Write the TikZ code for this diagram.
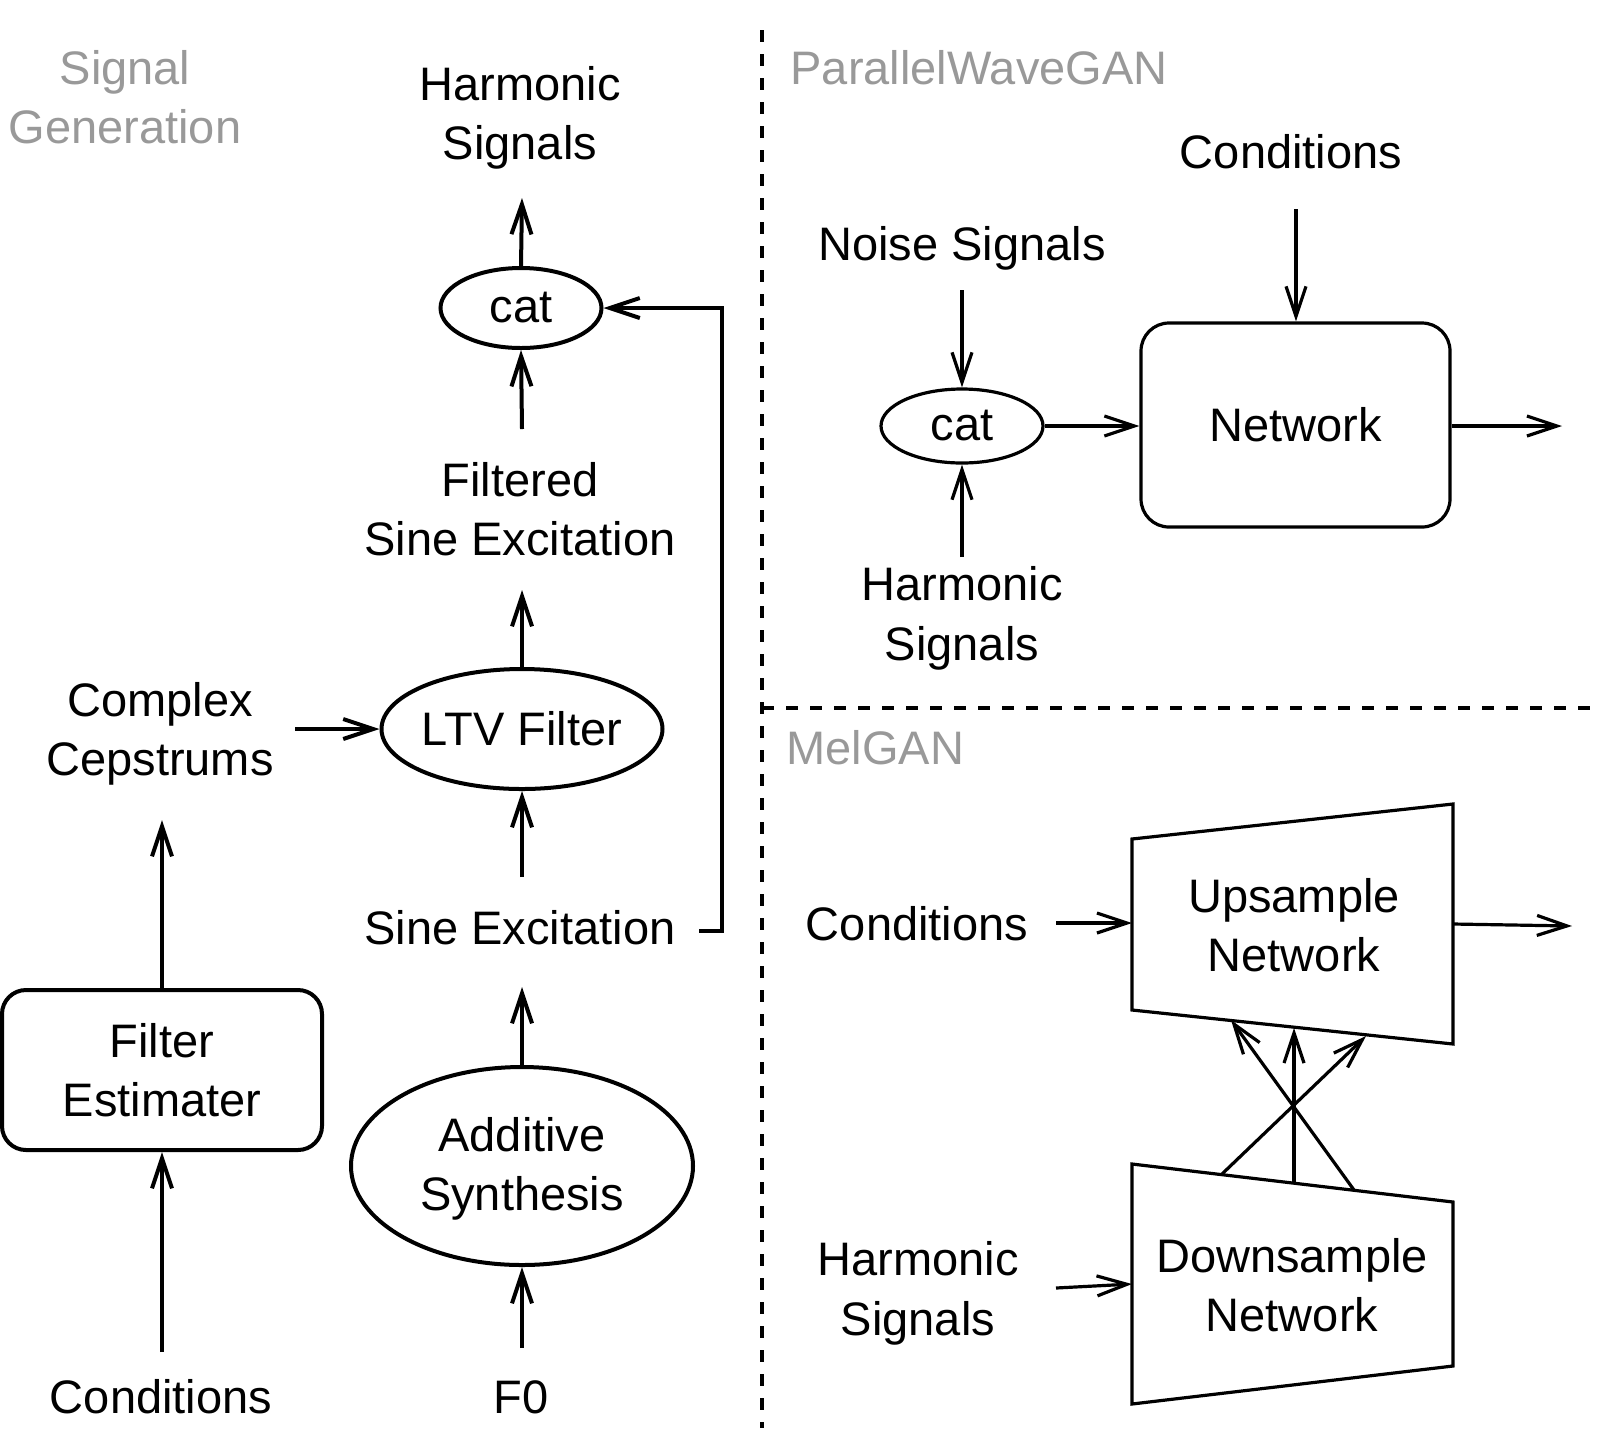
\documentclass[tikz,border=0pt]{standalone}
\usepackage{fontspec}
\setmainfont{Liberation Sans}
\usetikzlibrary{arrows.meta,shapes.geometric}
\definecolor{lblgray}{RGB}{153,153,153}
\begin{document}
\begin{tikzpicture}[x=1pt,y=-1pt,line width=3.2pt,
  >={Straight Barb[length=30pt,width=20pt]},
  txt/.style={font=\fontsize{47}{59.5}\selectfont,align=center,inner sep=0pt},
  gtxt/.style={txt,text=lblgray},
  ellip/.style={draw,ellipse,inner sep=0pt},
  rbox/.style={draw,rectangle,inner sep=0pt},
  thick4/.style={line width=4pt},
  divider/.style={line width=3.5pt,dash pattern=on 12pt off 12pt}]
\useasboundingbox (0,0) rectangle (1608,1452);

% dividers
\draw[divider] (762,30) -- (762,1428);
\draw[divider] (762,708) -- (1590,708);

% ---------------- Signal Generation ----------------
\begin{scope}[thick4]
\node[gtxt] (sg) at (125,97) {Signal\\Generation};
\node[txt] (hs1) at (520,118) {Harmonic\\Signals};
\node[ellip,minimum width=161pt,minimum height=80pt] (cat1) at (521,308) {};
\node[txt] at (cat1) {cat};
\node[txt] (fse) at (520,509) {Filtered\\Sine Excitation};
\node[ellip,minimum width=281pt,minimum height=120pt] (ltv) at (522,729) {};
\node[txt] at (ltv) {LTV Filter};
\node[txt] (cc) at (160,734) {Complex\\Cepstrums};
\node[txt] (se) at (520,928) {Sine Excitation};
\node[ellip,minimum width=342pt,minimum height=198pt] (add) at (522,1166) {};
\node[txt] at ([yshift=-3pt]add.center) {Additive\\Synthesis};
\node[txt] (f0) at (521,1397) {F0};
\node[rbox,rounded corners=24pt,minimum width=320pt,minimum height=160pt] (fe) at (162,1070) {};
\node[txt] at (fe) {Filter\\Estimater};
\node[txt] (cond1) at (161,1397) {Conditions};

\coordinate (hs1in) at (522,198);
\coordinate (fseout) at (522,429);
\coordinate (fsein) at (522,590);
\coordinate (ccout) at (295,729);
\coordinate (seout) at (522,877);
\coordinate (sein) at (522,987);
\coordinate (f0out) at (522,1348);
\coordinate (ccin) at (162,820);
\coordinate (cond1out) at (162,1352);
\coordinate (fbs) at (699,931);
\coordinate (fbc) at (722,931);

\draw[->] (cat1.north) -- (hs1in);
\draw[->] (fseout) -- (cat1.south);
\draw[->] (ltv.north) -- (fsein);
\draw[->] (ccout) -- (ltv.west);
\draw[->] (seout) -- (ltv.south);
\draw[->] (add.north) -- (sein);
\draw[->] (f0out) -- (add.south);
\draw[->] (fe.north) -- (ccin);
\draw[->] (cond1out) -- (fe.south);
\draw[->] (fbs) -- (fbc) |- (cat1.east);
\end{scope}

% ---------------- ParallelWaveGAN ----------------
\node[gtxt,anchor=west] (pwg) at (789,68) {ParallelWaveGAN};
\node[txt] (cond2) at (1291,152) {Conditions};
\node[txt] (noise) at (962,248) {Noise Signals};
\node[ellip,minimum width=162pt,minimum height=74pt] (cat2) at (962,426) {};
\node[txt] at (cat2) {cat};
\node[rbox,rounded corners=28pt,minimum width=309pt,minimum height=204pt] (net) at (1295.5,425) {};
\node[txt] at (net) {Network};
\node[txt] (hs2) at (962,618.5) {Harmonic\\Signals};

\coordinate (cond2out) at (1296,209);
\coordinate (noiseout) at (962,290);
\coordinate (hs2out) at (962,557);
\coordinate (netout) at (1562,426);

\draw[->] (cond2out) -- (cond2out |- net.north);
\draw[->] (noiseout) -- (cat2.north);
\draw[->] (hs2out) -- (cat2.south);
\draw[->] (cat2.east) -- (cat2.east -| net.west);
\draw[->] (net.east |- netout) -- (netout);

% ---------------- MelGAN ----------------
\node[gtxt,anchor=west] (mel) at (785,748) {MelGAN};
\coordinate (u1) at (1132,839);
\coordinate (u2) at (1453,804);
\coordinate (u3) at (1453,1044);
\coordinate (u4) at (1132,1010);
\draw (u1) -- (u2) -- (u3) -- (u4) -- cycle;
\coordinate (d1) at (1132,1164);
\coordinate (d2) at (1453,1202);
\coordinate (d3) at (1453,1366);
\coordinate (d4) at (1132,1404);
\draw (d1) -- (d2) -- (d3) -- (d4) -- cycle;
\node[txt] (ups) at (1294,925) {Upsample\\Network};
\node[txt] (downs) at (1292,1285) {Downsample\\Network};
\node[txt] (cond3) at (917,924) {Conditions};
\node[txt] (hs3) at (918,1293.5) {Harmonic\\Signals};

\coordinate (cond3out) at (1056,923);
\coordinate (upin) at (1132,923);
\coordinate (upout) at (1453,924);
\coordinate (melout) at (1572,926);
\coordinate (hs3out) at (1056,1288);
\coordinate (downin) at (1132,1284);
\coordinate (x1s) at (1222,1174);
\coordinate (x1e) at (1366,1036);
\coordinate (x2s) at (1294,1182);
\coordinate (x2e) at (1294,1028);
\coordinate (x3s) at (1354,1190);
\coordinate (x3e) at (1231,1020);

\draw[->] (cond3out) -- (upin);
\draw[->] (upout) -- (melout);
\draw[->] (hs3out) -- (downin);
\draw[->] (x1s) -- (x1e);
\draw[->] (x2s) -- (x2e);
\draw[->] (x3s) -- (x3e);
\end{tikzpicture}
\end{document}
